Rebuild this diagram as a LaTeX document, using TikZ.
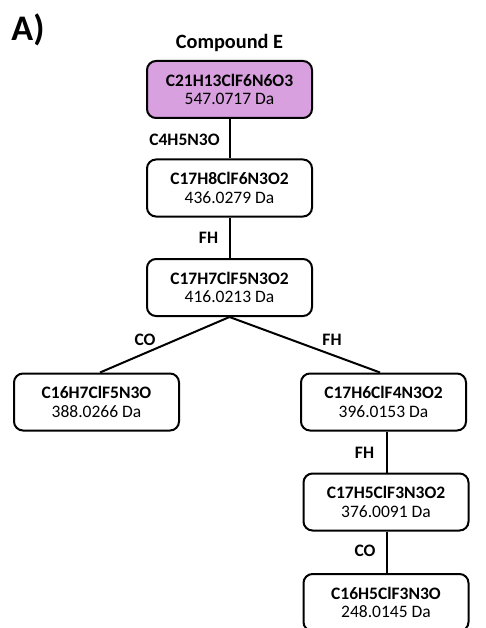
\documentclass[tikz,border=0pt]{standalone}
\usepackage{fontspec}
\setmainfont{Carlito}
\definecolor{cmpfill}{RGB}{217,160,223}
\begin{document}
\begin{tikzpicture}[x=1pt,y=-1pt,
  fbox/.style={draw=black,line width=2pt,rounded corners=9pt,minimum width=165pt,minimum height=57pt,align=center,inner sep=0pt,font=\fontsize{17.5}{18.5}\selectfont},
  conn/.style={line width=2pt},
  lbl/.style={font=\fontsize{17.5}{20}\selectfont\bfseries,inner sep=0pt}]
\clip (0,0) rectangle (486,628);
\useasboundingbox (0,0) rectangle (486,628);
\node[font=\fontsize{36}{38}\selectfont\bfseries,inner sep=0pt] (title) at (28,30) {A)};
\node[font=\fontsize{20.3}{22}\selectfont\bfseries,inner sep=0pt] (cmpE) at (229.5,43) {Compound E};
\node[fbox,fill=cmpfill] (b1) at (229.5,89.5) {\textbf{C21H13ClF6N6O3}\\547.0717 Da};
\node[fbox] (b2) at (229.5,188) {\textbf{C17H8ClF6N3O2}\\436.0279 Da};
\node[fbox] (b3) at (229.5,287.5) {\textbf{C17H7ClF5N3O2}\\416.0213 Da};
\node[fbox] (b4) at (96.5,402) {\textbf{C16H7ClF5N3O}\\388.0266 Da};
\node[fbox] (b5) at (383.5,402) {\textbf{C17H6ClF4N3O2}\\396.0153 Da};
\node[fbox] (b6) at (386,502) {\textbf{C17H5ClF3N3O2}\\376.0091 Da};
\node[fbox] (b7) at (386,602.5) {\textbf{C16H5ClF3N3O}\\248.0145 Da};
\draw[conn] (b1.south) -- (b2.north);
\draw[conn] (b2.south) -- (b3.north);
\draw[conn] (b3.south) -- (b4.north -| 100,0);
\draw[conn] (b3.south) -- (b5.north -| 380,0);
\draw[conn] (b5.south -| 387,0) -- (b6.north -| 387,0);
\draw[conn] (b6.south -| 387,0) -- (b7.north -| 387,0);
\node[lbl] (l1) at (184.5,140) {C4H5N3O};
\node[lbl] (l2) at (208.5,238) {FH};
\node[lbl] (l3) at (145,340) {CO};
\node[lbl] (l4) at (332,340) {FH};
\node[lbl] (l5) at (364.5,453) {FH};
\node[lbl] (l6) at (365,551) {CO};
\end{tikzpicture}
\end{document}
